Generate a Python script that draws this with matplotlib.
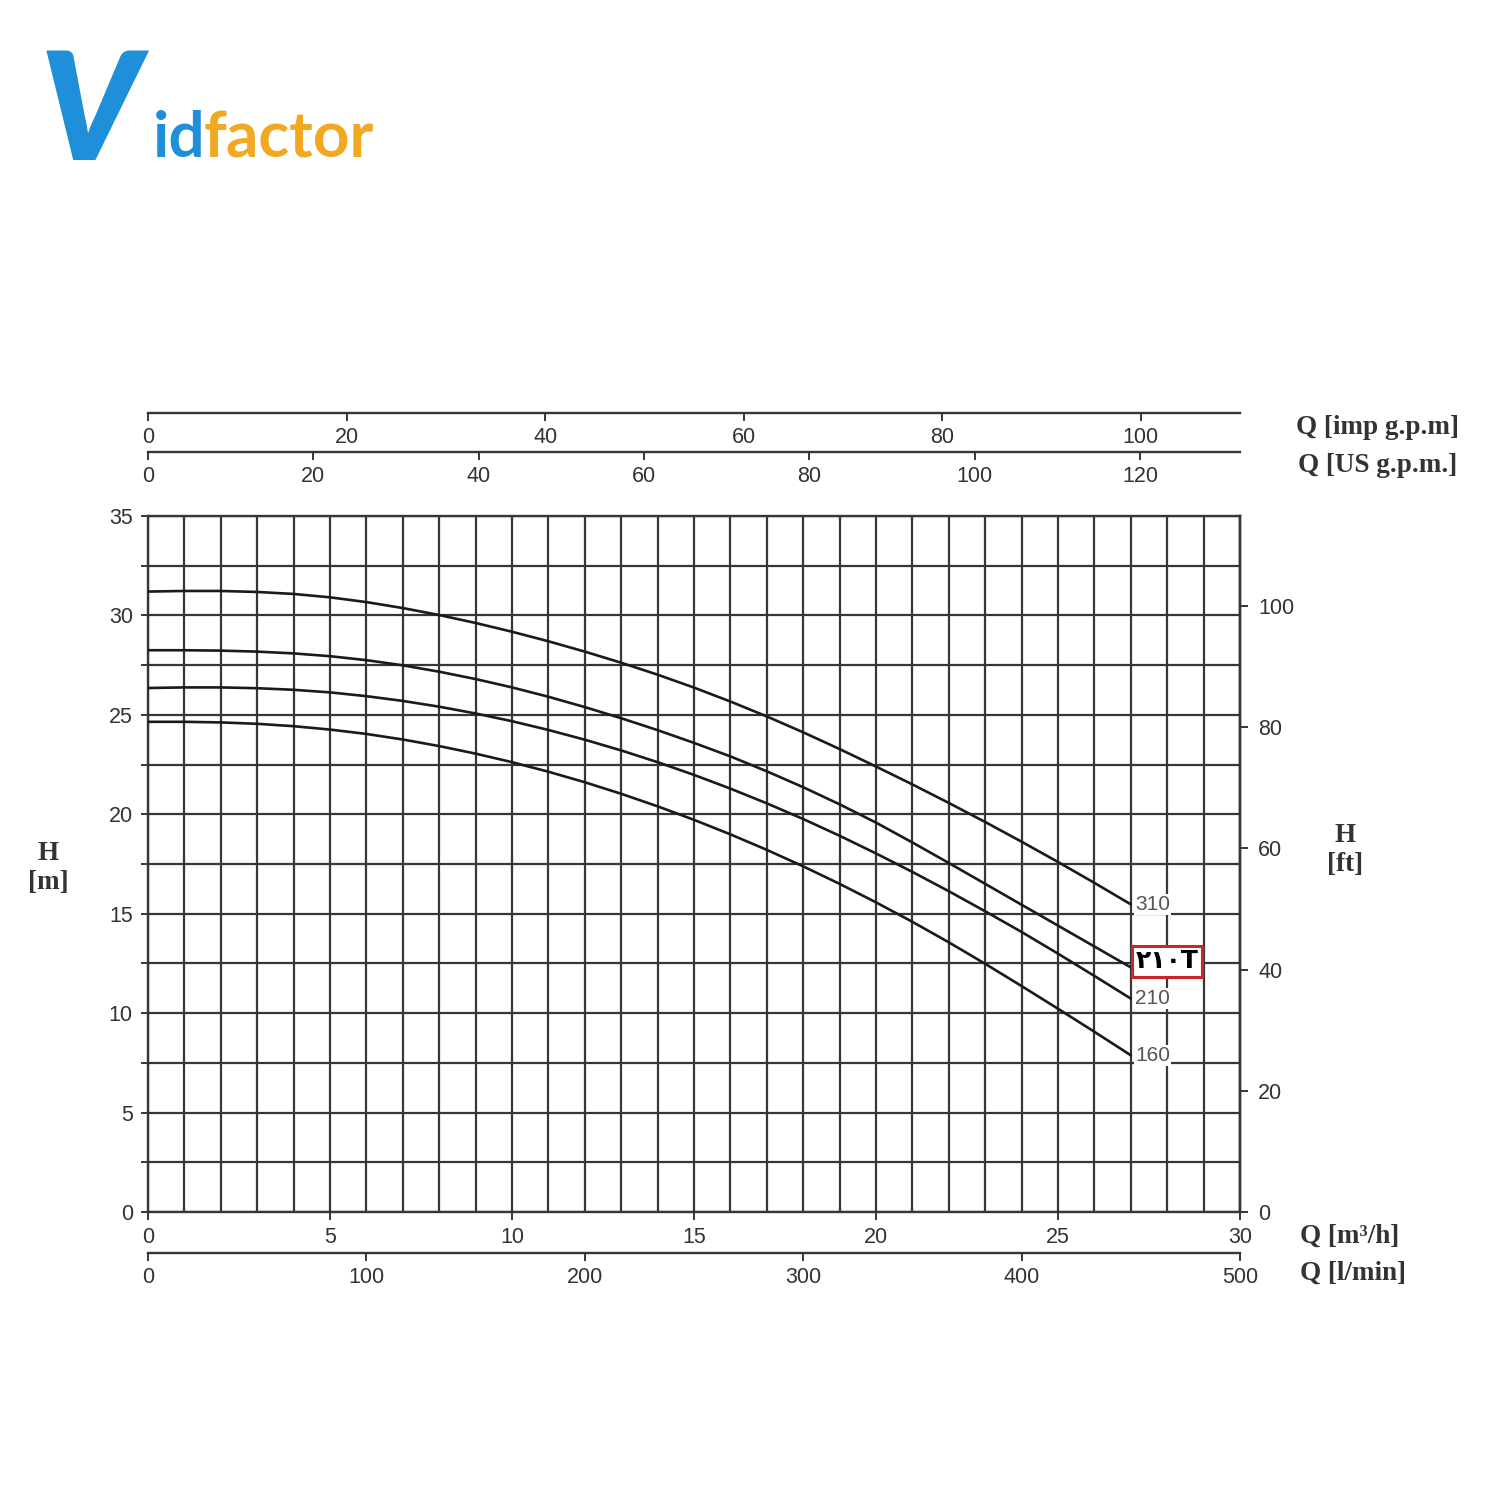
import matplotlib
matplotlib.use('Agg')
import matplotlib.pyplot as plt
from matplotlib.ticker import MultipleLocator

# Pump curves: Q in m3/h, H in m
q = [0, 1, 2, 3, 4, 5, 6, 7, 8, 9, 10, 11, 12, 13,
     14, 15, 16, 17, 18, 19, 20, 21, 22, 23, 24, 25, 26, 27]
h_310 = [31.2, 31.23, 31.23, 31.18, 31.08, 30.91, 30.67, 30.37, 30.02, 29.62, 29.18, 28.7, 28.18, 27.62,
         27.02, 26.37, 25.67, 24.92, 24.12, 23.28, 22.4, 21.5, 20.57, 19.61, 18.62, 17.6, 16.55, 15.47]
h_210t = [28.25, 28.25, 28.23, 28.18, 28.09, 27.95, 27.75, 27.49, 27.17, 26.8, 26.38, 25.91, 25.39, 24.83,
          24.23, 23.59, 22.91, 22.16, 21.36, 20.5, 19.58, 18.58, 17.55, 16.5, 15.45, 14.4, 13.35, 12.3]
h_210 = [26.35, 26.38, 26.38, 26.34, 26.26, 26.13, 25.94, 25.7, 25.41, 25.07, 24.68, 24.24, 23.75, 23.21,
         22.62, 21.98, 21.29, 20.55, 19.76, 18.92, 18.03, 17.1, 16.13, 15.12, 14.08, 12.99, 11.87, 10.73]
h_160 = [24.65, 24.65, 24.62, 24.55, 24.43, 24.26, 24.04, 23.76, 23.43, 23.05, 22.62, 22.14, 21.61, 21.03,
         20.4, 19.72, 18.99, 18.21, 17.38, 16.5, 15.57, 14.59, 13.56, 12.48, 11.36, 10.22, 9.06, 7.88]
curves = [('310', h_310), ('210T', h_210t), ('210', h_210), ('160', h_160)]

x_ticks_m3h = [0, 5, 10, 15, 20, 25, 30]
x_ticks_lmin = [0, 100, 200, 300, 400, 500]
x_ticks_imp = [0, 20, 40, 60, 80, 100]
x_ticks_us = [0, 20, 40, 60, 80, 100, 120]
y_ticks_m = [0, 5, 10, 15, 20, 25, 30, 35]
y_ticks_ft = [0, 20, 40, 60, 80, 100]

# unit conversions
LMIN = 1000 / 60
IMP = 3.6662
USG = 4.4029
FT = 3.2808

tick_col = '#333333'
grid_col = '#363636'
tick_font = {'family': 'Liberation Sans', 'size': 15.5}
lab_font = dict(family='Liberation Serif', fontweight='bold', fontsize=19.5, color='#333333')

fig = plt.figure(figsize=(15, 15), dpi=100)
fig.patch.set_facecolor('white')

ax = fig.add_axes([0.0987, 0.192, 0.728, 0.464])
ax.set_xlim(0, 30)
ax.set_ylim(0, 35)
ax.xaxis.set_major_locator(MultipleLocator(5))
ax.xaxis.set_minor_locator(MultipleLocator(1))
ax.yaxis.set_major_locator(MultipleLocator(5))
ax.yaxis.set_minor_locator(MultipleLocator(2.5))
ax.set_xticks(x_ticks_m3h)
ax.set_yticks(y_ticks_m)
ax.grid(which='both', color=grid_col, lw=1.6)
ax.set_axisbelow(True)
for s in ax.spines.values():
    s.set_color(grid_col)
    s.set_linewidth(1.7)
ax.tick_params(axis='x', which='major', length=6, width=1.4, color=grid_col, pad=5, labelcolor=tick_col)
ax.tick_params(axis='x', which='minor', length=0)
ax.tick_params(axis='y', which='both', length=5, width=1.4, color=grid_col, pad=6, labelcolor=tick_col)
for lab in ax.get_xticklabels() + ax.get_yticklabels():
    lab.set_fontfamily(tick_font['family'])
    lab.set_fontsize(tick_font['size'])

# curves
for name, h in curves:
    ax.plot(q, h, color='#1a1a1a', lw=1.9, solid_capstyle='round', zorder=3)
    if name == '210T':
        ax.text(27.99, h[-1] + 0.3, '۲۱۰T', ha='center', va='center', fontsize=18,
                fontweight='bold', family=['DejaVu Sans', 'Noto Sans'], color='black', zorder=5,
                bbox=dict(boxstyle='square,pad=0.14', fc='white', ec='#c8252c', lw=2.2))
    else:
        ax.text(q[-1] + 0.12, h[-1], name, ha='left', va='center', fontsize=15,
                family='Liberation Sans', color='#555555', zorder=4,
                bbox=dict(boxstyle='square,pad=0.05', fc='white', ec='none'))

# secondary scales
def add_x_scale(loc, conv, ticks, align):
    sec = ax.secondary_xaxis(loc, functions=(lambda x: x * conv, lambda x: x / conv))
    sec.set_alignment(align)
    sec.set_xticks(ticks)
    sec.spines[align].set_color(grid_col)
    sec.spines[align].set_linewidth(1.7)
    sec.tick_params(axis='x', length=6, width=1.4, color=grid_col, pad=4, labelcolor=tick_col)
    for lab in sec.get_xticklabels():
        lab.set_fontfamily(tick_font['family'])
        lab.set_fontsize(tick_font['size'])
    return sec

add_x_scale(-0.059, LMIN, x_ticks_lmin, 'bottom')
add_x_scale(1.092, USG, x_ticks_us, 'bottom')
add_x_scale(1.148, IMP, x_ticks_imp, 'bottom')

sec_ft = ax.secondary_yaxis('right', functions=(lambda m: m * FT, lambda f: f / FT))
sec_ft.set_yticks(y_ticks_ft)
sec_ft.spines['right'].set_color(grid_col)
sec_ft.spines['right'].set_linewidth(1.7)
sec_ft.tick_params(axis='y', length=6, width=1.4, color=grid_col, pad=7, labelcolor=tick_col)
for lab in sec_ft.get_yticklabels():
    lab.set_fontfamily(tick_font['family'])
    lab.set_fontsize(tick_font['size'])

# axis titles
fig.text(48 / 1500, 1 - 868 / 1500, 'H\n[m]', ha='center', va='center', linespacing=1.25, **lab_font)
fig.text(1345 / 1500, 1 - 850 / 1500, 'H\n[ft]', ha='center', va='center', linespacing=1.25, **lab_font)
fig.text(1296 / 1500, 1 - 427 / 1500, 'Q [imp g.p.m]', ha='left', va='center', **lab_font)
fig.text(1298 / 1500, 1 - 466 / 1500, 'Q [US g.p.m.]', ha='left', va='center', **lab_font)
fig.text(1300 / 1500, 1 - 1236 / 1500, 'Q [m³/h]', ha='left', va='center', **lab_font)
fig.text(1300 / 1500, 1 - 1273 / 1500, 'Q [l/min]', ha='left', va='center', **lab_font)

# logo
fig.text(40 / 1500, 1 - 160 / 1500, 'V', color='#1e8fd8', fontsize=108, family='Lato',
         fontweight='heavy', fontstyle='italic', ha='left', va='baseline')
fig.text(153 / 1500, 1 - 157 / 1500, 'id', color='#1e8fd8', fontsize=46, family='Lato',
         fontweight='bold', ha='left', va='baseline')
fig.text(204 / 1500, 1 - 157 / 1500, 'factor', color='#f2a922', fontsize=46, family='Lato',
         fontweight='bold', ha='left', va='baseline')

fig.savefig('out.png', dpi=100, facecolor='white')
